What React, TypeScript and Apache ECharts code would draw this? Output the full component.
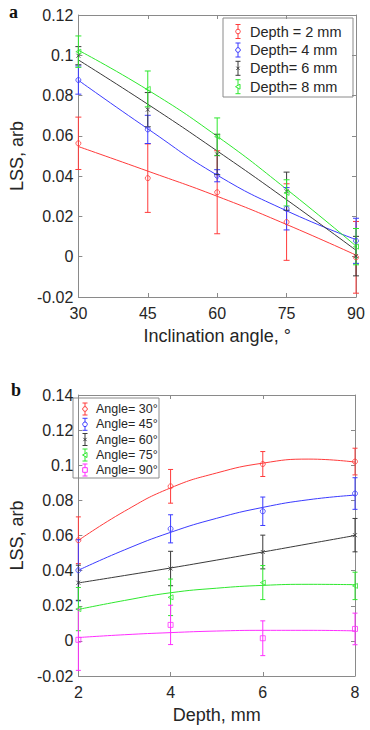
import React, { useEffect, useRef } from 'react';
import * as echarts from 'echarts';

// ---------- data: panel a ----------
const angleTicks = [30, 45, 60, 75, 90];
const lssTicksA = [-0.02, 0, 0.02, 0.04, 0.06, 0.08, 0.1, 0.12];
const topLabels = ['Depth = 2 mm', 'Depth= 4 mm', 'Depth= 6 mm', 'Depth= 8 mm'];
const d2 = [0.0563, 0.039, 0.032, 0.0172, -0.0003];
const d2Err = [0.013, 0.017, 0.0206, 0.019, 0.0178];
const d2Fit = [0.0547, 0.0425, 0.03, 0.016, 0.0008];
const d4 = [0.0877, 0.0632, 0.0402, 0.0238, 0.0079];
const d4Err = [0.007, 0.007, 0.003, 0.0105, 0.0112];
const d4Fit = [0.0876, 0.0635, 0.0405, 0.0228, 0.0085];
const d6 = [0.0998, 0.073, 0.0508, 0.0325, 0.0003];
const d6Err = [0.0045, 0.0085, 0.01, 0.0095, 0.0098];
const d6Fit = [0.0977, 0.0757, 0.0525, 0.0283, 0.0032];
const d8 = [0.1018, 0.0833, 0.0596, 0.0317, 0.005];
const d8Err = [0.0078, 0.0089, 0.0093, 0.0065, 0.009];
const d8Fit = [0.1025, 0.0828, 0.0598, 0.0335, 0.0053];

// ---------- data: panel b ----------
const depthTicks = [2, 4, 6, 8];
const depthFitX = [2, 3, 4, 5, 6, 7, 8];
const lssTicksB = [-0.02, 0, 0.02, 0.04, 0.06, 0.08, 0.1, 0.12, 0.14];
const bottomLabels = ['Angle= 30°', 'Angle= 45°', 'Angle= 60°', 'Angle= 75°', 'Angle= 90°'];
const a30 = [0.0573, 0.088, 0.1007, 0.1021];
const a30Err = [0.0133, 0.0096, 0.0071, 0.0076];
const a30Fit = [0.0572, 0.0738, 0.0871, 0.0956, 0.1012, 0.1035, 0.1018];
const a45 = [0.0402, 0.0638, 0.0738, 0.0839];
const a45Err = [0.0174, 0.008, 0.0081, 0.009];
const a45Fit = [0.0402, 0.0518, 0.0618, 0.0698, 0.076, 0.0804, 0.083];
const a60 = [0.0331, 0.0412, 0.0506, 0.0602];
const a60Err = [0.01, 0.0098, 0.0096, 0.0095];
const a60Fit = [0.033, 0.0372, 0.0415, 0.046, 0.0506, 0.0553, 0.06];
const a75 = [0.0181, 0.0248, 0.0332, 0.0313];
const a75Err = [0.0123, 0.0104, 0.0097, 0.0078];
const a75Fit = [0.0179, 0.023, 0.0274, 0.03, 0.0316, 0.0322, 0.032];
const a90 = [0.0006, 0.0091, 0.0015, 0.0068];
const a90Err = [0.0174, 0.0112, 0.0099, 0.009];
const a90Fit = [0.0019, 0.0035, 0.0047, 0.0056, 0.006, 0.006, 0.0057];

const RED = '#ff3b3b';
const BLUE = '#3b3bff';
const BLACK = '#3a3a3a';
const GREEN = '#2ee82e';
const MAGENTA = '#ff2eff';
const AXIS = '#8a8a8a';
const TXT = '#262626';
const FONT = '"Liberation Sans", Arial, sans-serif';

type Mk = 'circle' | 'cross' | 'triangle' | 'rect';
const CROSS = 'path://M0 0L10 10M10 0L0 10';

const fmt = (v: number) => String(parseFloat(v.toFixed(2)));

function symbolOf(m: Mk) {
  if (m === 'cross') return { symbol: CROSS, symbolSize: 4, symbolRotate: 0 };
  if (m === 'triangle') return { symbol: 'triangle', symbolSize: 5, symbolRotate: 90 };
  if (m === 'rect') return { symbol: 'rect', symbolSize: 5, symbolRotate: 0 };
  return { symbol: 'circle', symbolSize: 5, symbolRotate: 0 };
}

function seriesSet(
  gi: number,
  xs: number[],
  ys: number[],
  errs: number[],
  fitX: number[],
  fit: number[],
  color: string,
  mk: Mk,
  cap: number
) {
  const ax = gi * 2;
  const s = symbolOf(mk);
  return [
    {
      type: 'line',
      xAxisIndex: ax,
      yAxisIndex: ax,
      data: fitX.map((x, i) => [x, fit[i]]),
      smooth: 0.5,
      showSymbol: false,
      symbol: 'none',
      lineStyle: { color, width: 1 },
      silent: true,
      z: 3,
    },
    {
      type: 'custom',
      xAxisIndex: ax,
      yAxisIndex: ax,
      clip: false,
      data: xs.map((x, i) => [x, ys[i] - errs[i], ys[i] + errs[i]]),
      encode: { x: 0, y: [1, 2] },
      renderItem: (_p: any, api: any) => {
        const x = api.value(0);
        const top = api.coord([x, api.value(2)]);
        const bot = api.coord([x, api.value(1)]);
        const st = { stroke: color, lineWidth: 1 };
        return {
          type: 'group',
          children: [
            { type: 'line', shape: { x1: top[0], y1: top[1], x2: bot[0], y2: bot[1] }, style: st },
            { type: 'line', shape: { x1: top[0] - cap, y1: top[1], x2: top[0] + cap, y2: top[1] }, style: st },
            { type: 'line', shape: { x1: bot[0] - cap, y1: bot[1], x2: bot[0] + cap, y2: bot[1] }, style: st },
          ],
        };
      },
      z: 4,
    },
    {
      type: 'scatter',
      xAxisIndex: ax,
      yAxisIndex: ax,
      data: xs.map((x, i) => [x, ys[i]]),
      symbol: s.symbol,
      symbolSize: s.symbolSize,
      symbolRotate: s.symbolRotate,
      itemStyle: { color: 'transparent', borderColor: color, borderWidth: 1 },
      z: 5,
    },
  ];
}

function axesFor(gi: number, xt: number[], yt: number[], xName: string) {
  const common = {
    gridIndex: gi,
    type: 'value',
    axisLine: { show: true, onZero: false, lineStyle: { color: AXIS, width: 1 } },
    axisTick: { show: true, inside: true, length: 4, lineStyle: { color: AXIS } },
    splitLine: { show: false },
  };
  const xCommon = { ...common, min: xt[0], max: xt[xt.length - 1], interval: xt[1] - xt[0] };
  const yCommon = {
    ...common,
    min: yt[0],
    max: yt[yt.length - 1],
    interval: 0.02,
  };
  const xs = [
    {
      ...xCommon,
      position: 'bottom',
      name: xName,
      nameLocation: 'middle',
      nameGap: 30,
      nameTextStyle: { fontSize: 18, color: TXT, fontFamily: FONT },
      axisLabel: { fontSize: 16, color: TXT, fontFamily: FONT, margin: 8 },
    },
    { ...xCommon, position: 'top', axisLabel: { show: false } },
  ];
  const ys = [
    {
      ...yCommon,
      position: 'left',
      name: 'LSS, arb',
      nameLocation: 'middle',
      nameGap: 44,
      nameTextStyle: { fontSize: 18, color: TXT, fontFamily: FONT },
      axisLabel: { fontSize: 16, color: TXT, fontFamily: FONT, margin: 5, formatter: fmt },
    },
    { ...yCommon, position: 'right', axisLabel: { show: false } },
  ];
  return { xs, ys };
}

function legendGraphic(
  box: { x: number; y: number; w: number; h: number },
  labels: string[],
  colors: string[],
  marks: Mk[],
  rowY: number[],
  iconX: number,
  textX: number,
  fontSize: number,
  halfH: number
) {
  const children: any[] = [
    {
      type: 'rect',
      shape: { x: box.x, y: box.y, width: box.w, height: box.h },
      style: { fill: '#fff', stroke: AXIS, lineWidth: 1 },
    },
  ];
  labels.forEach((lab, i) => {
    const cy = rowY[i];
    const c = colors[i];
    const st = { stroke: c, lineWidth: 1, fill: 'none' };
    children.push(
      { type: 'line', shape: { x1: iconX, y1: cy - halfH, x2: iconX, y2: cy + halfH }, style: st },
      { type: 'line', shape: { x1: iconX - 2.5, y1: cy - halfH, x2: iconX + 2.5, y2: cy - halfH }, style: st },
      { type: 'line', shape: { x1: iconX - 2.5, y1: cy + halfH, x2: iconX + 2.5, y2: cy + halfH }, style: st }
    );
    const m = marks[i];
    if (m === 'circle') children.push({ type: 'circle', shape: { cx: iconX, cy, r: 2.3 }, style: { ...st, fill: '#fff' } });
    else if (m === 'rect') children.push({ type: 'rect', shape: { x: iconX - 2.3, y: cy - 2.3, width: 4.6, height: 4.6 }, style: { ...st, fill: '#fff' } });
    else if (m === 'triangle')
      children.push({
        type: 'polygon',
        shape: { points: [[iconX - 2.5, cy], [iconX + 2, cy - 2.5], [iconX + 2, cy + 2.5]] },
        style: { ...st, fill: '#fff' },
      });
    else
      children.push(
        { type: 'line', shape: { x1: iconX - 1.6, y1: cy - 1.6, x2: iconX + 1.6, y2: cy + 1.6 }, style: st },
        { type: 'line', shape: { x1: iconX + 1.6, y1: cy - 1.6, x2: iconX - 1.6, y2: cy + 1.6 }, style: st }
      );
    children.push({
      type: 'text',
      x: textX,
      y: cy,
      style: { text: lab, fontSize, fontFamily: FONT, fill: TXT, verticalAlign: 'middle', align: 'left' },
    });
  });
  return { type: 'group', children, z: 20 };
}

export default function App() {
  const ref = useRef<HTMLDivElement>(null);
  useEffect(() => {
    document.body.style.margin = '0';
    if (!ref.current) return;
    const chart = echarts.init(ref.current, undefined, { renderer: 'svg' });
    const A = axesFor(0, angleTicks, lssTicksA, 'Inclination angle, °');
    const B = axesFor(1, depthTicks, lssTicksB, 'Depth, mm');
    const topColors = [RED, BLUE, BLACK, GREEN];
    const topMarks: Mk[] = ['circle', 'circle', 'cross', 'triangle'];
    const botColors = [RED, BLUE, BLACK, GREEN, MAGENTA];
    const botMarks: Mk[] = ['circle', 'circle', 'cross', 'triangle', 'rect'];
    const option: any = {
      animation: false,
      backgroundColor: '#fff',
      grid: [
        { left: 68, top: 15, width: 288, height: 282 },
        { left: 68, top: 395, width: 287, height: 281 },
      ],
      xAxis: [...A.xs, ...B.xs],
      yAxis: [...A.ys, ...B.ys],
      series: [
        ...seriesSet(0, angleTicks, d2, d2Err, angleTicks, d2Fit, RED, 'circle', 3),
        ...seriesSet(0, angleTicks, d4, d4Err, angleTicks, d4Fit, BLUE, 'circle', 3),
        ...seriesSet(0, angleTicks, d6, d6Err, angleTicks, d6Fit, BLACK, 'cross', 3),
        ...seriesSet(0, angleTicks, d8, d8Err, angleTicks, d8Fit, GREEN, 'triangle', 3),
        ...seriesSet(1, depthTicks, a30, a30Err, depthFitX, a30Fit, RED, 'circle', 2.5),
        ...seriesSet(1, depthTicks, a45, a45Err, depthFitX, a45Fit, BLUE, 'circle', 2.5),
        ...seriesSet(1, depthTicks, a60, a60Err, depthFitX, a60Fit, BLACK, 'cross', 2.5),
        ...seriesSet(1, depthTicks, a75, a75Err, depthFitX, a75Fit, GREEN, 'triangle', 2.5),
        ...seriesSet(1, depthTicks, a90, a90Err, depthFitX, a90Fit, MAGENTA, 'rect', 2.5),
      ],
      graphic: [
        {
          type: 'text',
          x: 9,
          y: 3,
          style: { text: 'a', fontSize: 18, fontWeight: 'bold', fontFamily: '"Liberation Serif", serif', fill: '#111' },
        },
        {
          type: 'text',
          x: 11,
          y: 381,
          style: { text: 'b', fontSize: 18, fontWeight: 'bold', fontFamily: '"Liberation Serif", serif', fill: '#111' },
        },
        legendGraphic({ x: 223, y: 18, w: 130, h: 79 }, topLabels, topColors, topMarks, [31.5, 50, 68.3, 86.7], 238, 250, 14.5, 7),
        legendGraphic({ x: 73, y: 398, w: 86, h: 80 }, bottomLabels, botColors, botMarks, [409, 424.3, 439.5, 455, 470], 85, 96, 12.5, 6),
      ],
    };
    chart.setOption(option);
    return () => chart.dispose();
  }, []);
  return <div ref={ref} style={{ width: 370, height: 730 }} />;
}
